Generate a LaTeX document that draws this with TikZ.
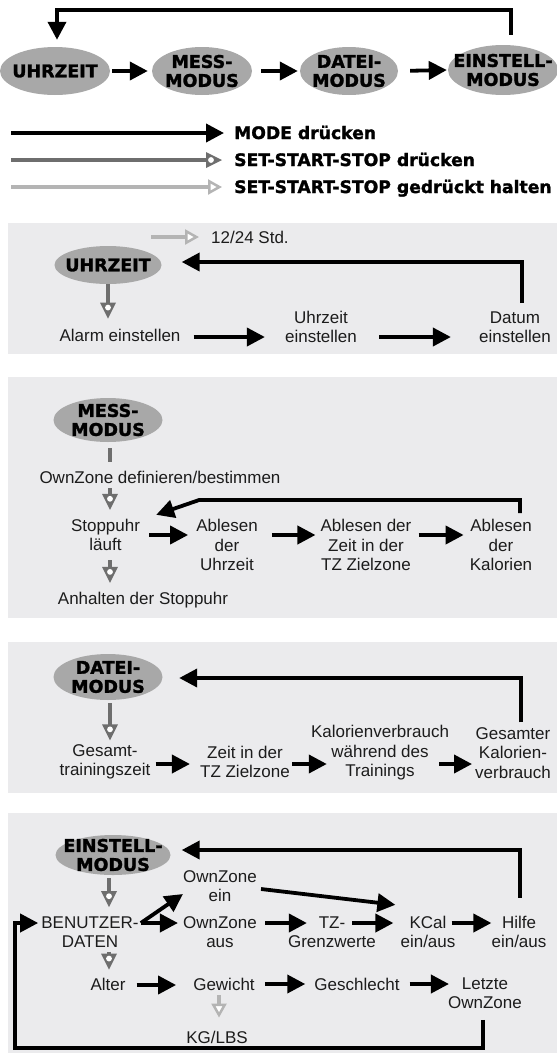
\documentclass[tikz,border=0pt]{standalone}
\usepackage{fontspec}
\setmainfont{Liberation Sans}
\newfontfamily\heavy{DejaVu Sans}[BoldFeatures={FakeBold=1.6}]
\usetikzlibrary{arrows.meta,shapes.geometric,calc}
\definecolor{panelbg}{HTML}{EBEBED}
\definecolor{ellfill}{HTML}{A8A8A8}
\definecolor{darkgr}{HTML}{6E6E6E}
\definecolor{lightgr}{HTML}{B4B4B4}
\definecolor{txtcol}{HTML}{1C1C1C}
\pgfdeclarearrow{
  name = GrayTip,
  setup code = {
    \pgfarrowssettipend{0pt}
    \pgfarrowssetlineend{-14pt}
    \pgfarrowssetbackend{-16pt}
    \pgfarrowssetvisualbackend{-16pt}
    \pgfarrowshullpoint{0pt}{0pt}
    \pgfarrowsupperhullpoint{-16pt}{8pt}
  },
  drawing code = {
    \pgfsetfillcolor{darkgr}
    \pgfpathmoveto{\pgfqpoint{0pt}{0pt}}
    \pgfpathlineto{\pgfqpoint{-16pt}{8pt}}
    \pgfpathlineto{\pgfqpoint{-16pt}{-8pt}}
    \pgfpathclose
    \pgfusepathqfill
    \pgfsetfillcolor{white}
    \pgfpathcircle{\pgfqpoint{-11pt}{0pt}}{2.9pt}
    \pgfusepathqfill
  }
}
\begin{document}
\begin{tikzpicture}[x=1pt,y=-1pt,
  ell/.style={ellipse, fill=ellfill, inner sep=-20pt, align=center,
    font=\heavy\bfseries\fontsize{17.5}{19}\selectfont},
  txt/.style={inner sep=0pt, align=center, text=txtcol,
    font=\fontsize{17}{19.5}\selectfont},
  leg/.style={inner sep=0pt, font=\heavy\bfseries\fontsize{17.2}{19}\selectfont},
  blk/.style={draw=black, line width=3.8pt, line join=miter,
    -{Triangle[length=18pt,width=18pt]}},
  gry/.style={draw=darkgr, line width=4pt, -{GrayTip}},
  gryline/.style={draw=darkgr, line width=4pt},
  lgry/.style={draw=lightgr, line width=4pt,
    -{Triangle[length=14pt,width=15pt,fill=white,line width=2.5pt]}}
]
\useasboundingbox (0,0) rectangle (557,1053);

% ---------- top row ----------
\node[ell, minimum width=110pt, minimum height=48pt] (t1) at (55,71) {UHRZEIT};
\node[ell, minimum width=100pt, minimum height=48pt] (t2) at (202,71) {MESS-\\MODUS};
\node[ell, minimum width=98pt, minimum height=48pt] (t3) at (349,71) {DATEI-\\MODUS};
\node[ell, minimum width=110pt, minimum height=50pt] (t4) at (503,70) {EINSTELL-\\MODUS};
\draw[blk, shorten <=2pt, shorten >=4pt] (t1.east) -- (t2.west);
\draw[blk, shorten <=9pt, shorten >=2pt] (t2.east) -- (t3.west);
\draw[blk, shorten <=12pt, shorten >=1pt] (t3.east) -- (t4.west);
\draw[blk] ($(t4.north)+(8,-10)$) -- ++(0,-25) -| ($(t1.north)+(2,-7)$);

% ---------- legend ----------
\node[leg, anchor=base west] (l1) at (234,139) {MODE drücken};
\node[leg, anchor=base west] (l2) at (234,166) {SET-START-STOP drücken};
\node[leg, anchor=base west] (l3) at (234,193) {SET-START-STOP gedrückt halten};
\coordinate (l1s) at (11,133);
\coordinate (l2s) at (11,160);
\coordinate (l3s) at (11,187);
\draw[blk] (l1s) -- ($(l1.base west)+(-10,-6)$);
\draw[gry] (l2s) -- ($(l2.base west)+(-12,-6)$);
\draw[lgry] (l3s) -- ($(l3.base west)+(-12,-6)$);

% ---------- panels ----------
\fill[panelbg] (8,223) rectangle (557,354);
\fill[panelbg] (8,377) rectangle (557,618);
\fill[panelbg] (8,642) rectangle (557,793);
\fill[panelbg] (8,813) rectangle (557,1053);

% ---------- panel 1 ----------
\node[ell, minimum width=107pt, minimum height=38pt] (u1) at (108,265) {UHRZEIT};
\node[txt, anchor=west] (std) at (211,237) {12/24 Std.};
\coordinate (s1) at (151,237);
\draw[lgry] (s1) -- ($(std.west)+(-12,0)$);
\node[txt] (alarm) at (120,335) {Alarm einstellen};
\node[txt] (uzeit) at (321,327) {Uhrzeit\\einstellen};
\node[txt] (datum) at (515,327) {Datum\\einstellen};
\draw[gry] (u1.south) -- ($(u1.south |- alarm.north)+(0,-10)$);
\draw[blk] ($(alarm.east)+(13,2)$) -- ($(uzeit.west |- alarm.east)+(-20,2)$);
\draw[blk] ($(uzeit.east |- alarm.east)+(22,2)$) -- ($(datum.west |- alarm.east)+(-28,2)$);
\draw[blk] ($(datum.north)+(7,-8)$) |- ($(u1.east)+(20,-3)$);

% ---------- panel 2 ----------
\node[ell, minimum width=109pt, minimum height=44pt] (m1) at (108,420) {MESS-\\MODUS};
\node[txt] (own) at (160,477) {OwnZone definieren/bestimmen};
\node[txt] (stop) at (105.5,535) {Stoppuhr\\läuft};
\node[txt] (anh) at (143,600) {Anhalten der Stoppuhr};
\node[txt] (abu) at (227,545) {Ablesen\\der\\Uhrzeit};
\node[txt] (abz) at (366,545) {Ablesen der\\Zeit in der\\TZ Zielzone};
\node[txt] (abk) at (501,545) {Ablesen\\der\\Kalorien};
\draw[gryline] ($(m1.south)+(2,6)$) -- ($(m1.south |- own.north)+(2,-9)$);
\draw[gry] ($(m1.south |- own.south)+(2,5)$) -- ($(m1.south |- stop.north)+(2,-9)$);
\draw[gry] ($(m1.south |- stop.south)+(2,9)$) -- ($(m1.south |- anh.north)+(2,-9)$);
\draw[blk, shorten <=9pt, shorten >=8pt] (stop.east) -- (abu.west |- stop.east);
\draw[blk, shorten <=14pt, shorten >=5pt] (abu.east |- stop.east) -- (abz.west |- stop.east);
\draw[blk, shorten <=7pt, shorten >=6pt] (abz.east |- stop.east) -- (abk.west |- stop.east);
\draw[blk] ($(abk.north)+(19,-6)$) -- ++(0,-13) -- ++(-321,0) -- ($(stop.north east)+(16,-4)$);

% ---------- panel 3 ----------
\node[ell, minimum width=109pt, minimum height=46pt] (d1) at (108,677) {DATEI-\\MODUS};
\node[txt] (ges) at (105,762) {Gesamt-\\trainingszeit};
\node[txt] (zeit) at (245,762) {Zeit in der\\TZ Zielzone};
\node[txt] (kal) at (380,753) {Kalorienverbrauch\\während des\\Trainings};
\node[txt] (gk) at (513,753) {Gesamter\\Kalorien-\\verbrauch};
\draw[gry] ($(d1.south)+(2,3)$) -- ($(d1.south |- ges.north)+(2,-4)$);
\draw[blk] ($(ges.east)+(5,2)$) -- ($(zeit.west |- ges.east)+(-10,2)$);
\draw[blk] ($(zeit.east)+(2,2)$) -- ($(kal.west |- zeit.east)+(16,2)$);
\draw[blk] ($(kal.east |- zeit.east)+(-10,2)$) -- ($(gk.west |- zeit.east)+(-3,2)$);
\draw[blk] ($(gk.north)+(8,-5)$) |- ($(d1.east)+(16.5,1)$);

% ---------- panel 4 ----------
\node[ell, minimum width=115pt, minimum height=40pt] (e1) at (113,855) {EINSTELL-\\MODUS};
\node[txt] (ben) at (90,932) {BENUTZER-\\DATEN};
\node[txt] (oein) at (220,886) {OwnZone\\ein};
\node[txt] (oaus) at (220,932) {OwnZone\\aus};
\node[txt] (tz) at (332,932) {TZ-\\Grenzwerte};
\node[txt] (kcal) at (428,932) {KCal\\ein/aus};
\node[txt] (hilfe) at (519,932) {Hilfe\\ein/aus};
\node[txt] (alter) at (108,984) {Alter};
\node[txt] (gew) at (224,984) {Gewicht};
\node[txt] (geschl) at (357,984) {Geschlecht};
\node[txt] (letzte) at (485,993) {Letzte\\OwnZone};
\node[txt] (kg) at (217,1037) {KG/LBS};
\draw[gry] ($(e1.south)+(-4,3)$) -- ($(e1.south |- ben.north)+(-4,-9)$);
\draw[blk] ($(ben.east)+(2,-9)$) -- ($(oein.west)+(0,8)$);
\draw[blk] ($(ben.east)+(2,-9)$) -- ($(oaus.west)+(-5,-9)$);
\draw[blk] ($(oein.east)+(4,3)$) -- ($(kcal.north west)+(-5,-11)$);
\draw[blk] ($(oaus.east)+(8,-9)$) -- ($(tz.west)+(19,-9)$);
\draw[blk] ($(tz.east)+(-24,-9)$) -- ($(kcal.west)+(-7,-9)$);
\draw[blk] ($(kcal.east)+(-4,-9)$) -- ($(hilfe.west)+(0,-9)$);
\draw[blk] ($(hilfe.north)+(1,-18)$) |- ($(e1.east)+(11,-5)$);
\draw[gry] ($(e1.south |- ben.south)+(-4,4)$) -- ($(e1.south |- alter.north)+(-4,-8)$);
\draw[blk] ($(alter.east)+(11,1)$) -- ($(gew.west)+(-17,1)$);
\draw[blk] ($(gew.east)+(10,0)$) -- ($(geschl.west)+(-9,0)$);
\draw[blk] ($(geschl.east)+(10,0)$) -- ($(letzte.west |- geschl.east)+(1,0)$);
\draw[lgry] ($(gew.south)+(-5,5)$) -- ($(gew.south |- kg.north)+(-5,-13)$);
\draw[blk] ($(letzte.south)+(-2,11)$) -- ++(0,28) -| ($(ben.west)+(-26,-9)$) -- ($(ben.west)+(-3,-9)$);
\end{tikzpicture}
\end{document}
